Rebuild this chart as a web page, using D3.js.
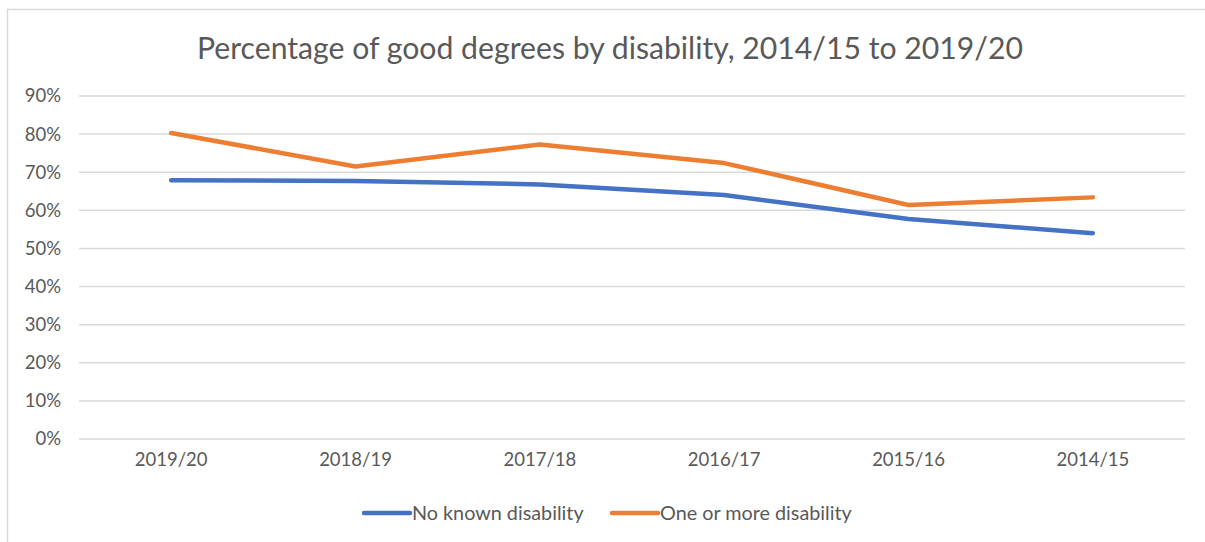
<!DOCTYPE html>
<html>
<head>
<meta charset="utf-8">
<script src="https://cdn.jsdelivr.net/npm/d3@7"></script>
<style>
  body { margin: 0; background: #fff; }
  text { font-family: Lato, "Open Sans", sans-serif; fill: #595959; }
</style>
</head>
<body>
<div id="chart"></div>
<script>
const years = ["2019/20", "2018/19", "2017/18", "2016/17", "2015/16", "2014/15"];
const noKnown = [67.9, 67.7, 66.8, 64.0, 57.7, 54.0];
const oneOrMore = [80.3, 71.5, 77.3, 72.4, 61.4, 63.4];
const yTicks = [0, 10, 20, 30, 40, 50, 60, 70, 80, 90];
const seriesNames = ["No known disability", "One or more disability"];
const colors = ["#4472C4", "#ED7D31"];

function createLineChart() {
    const W = 1205, H = 542;
    const margin = { top: 96, right: 20, bottom: 103, left: 79 };
    const width = 1185 - margin.left;
    const height = H - margin.top - margin.bottom;

    const root = d3.select("#chart")
        .append("svg")
        .attr("width", W)
        .attr("height", H);

    // outer chart border (only top & left visible in crop)
    root.append("rect")
        .attr("x", 7.5).attr("y", 9.5)
        .attr("width", W + 20).attr("height", H + 20)
        .attr("fill", "none")
        .attr("stroke", "#d9d9d9")
        .attr("stroke-width", 1.5);

    root.append("text")
        .attr("x", 610)
        .attr("y", 59)
        .attr("text-anchor", "middle")
        .style("font-size", "30.2px")
        .text("Percentage of good degrees by disability, 2014/15 to 2019/20");

    const svg = root.append("g")
        .attr("transform", `translate(${margin.left},${margin.top})`);

    const x = d3.scaleBand()
        .domain(years)
        .range([0, width]);

    const y = d3.scaleLinear()
        .domain([0, 90])
        .range([height, 0]);

    // gridlines
    svg.append("g")
        .selectAll("line")
        .data(yTicks)
        .enter()
        .append("line")
        .attr("x1", 0).attr("x2", width)
        .attr("y1", d => y(d)).attr("y2", d => y(d))
        .attr("stroke", "#d9d9d9")
        .attr("stroke-width", 1.5);

    const yAxis = svg.append("g")
        .call(d3.axisLeft(y).tickValues(yTicks).tickFormat(d => d + "%").tickSize(0).tickPadding(18));
    yAxis.select(".domain").remove();
    yAxis.selectAll("text").style("font-size", "18.5px").attr("fill", "#595959");

    const xAxis = svg.append("g")
        .attr("transform", `translate(0,${height})`)
        .call(d3.axisBottom(x).tickSize(0).tickPadding(14));
    xAxis.select(".domain").remove();
    xAxis.selectAll("text").style("font-size", "18.5px").attr("fill", "#595959");

    const line = d3.line()
        .x((d, i) => x(years[i]) + x.bandwidth() / 2)
        .y(d => y(d));

    [noKnown, oneOrMore].forEach((vals, i) => {
        svg.append("path")
            .datum(vals)
            .attr("fill", "none")
            .attr("stroke", colors[i])
            .attr("stroke-width", 4.5)
            .attr("stroke-linecap", "round")
            .attr("stroke-linejoin", "round")
            .attr("d", line);
    });

    // Legend
    const legendX = [364, 612];
    const legend = root.append("g");
    seriesNames.forEach((name, i) => {
        legend.append("line")
            .attr("x1", legendX[i]).attr("x2", legendX[i] + 46)
            .attr("y1", 513).attr("y2", 513)
            .attr("stroke", colors[i])
            .attr("stroke-width", 4.5)
            .attr("stroke-linecap", "round");
        legend.append("text")
            .attr("x", legendX[i] + 48)
            .attr("y", 520)
            .style("font-size", "19.8px")
            .text(name);
    });
}

createLineChart();
</script>
</body>
</html>
